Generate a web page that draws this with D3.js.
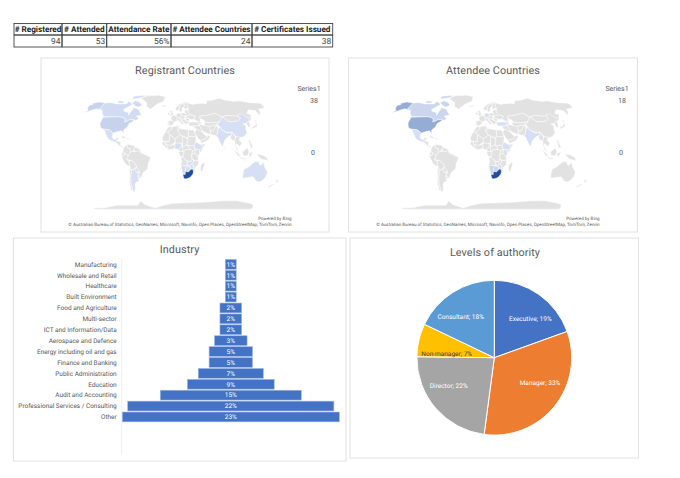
<!DOCTYPE html>
<html><head><meta charset="utf-8">
<style>html,body{margin:0;padding:0;background:#fff}svg{display:block}text{font-family:Roboto,"Open Sans",sans-serif;text-rendering:geometricPrecision}</style>
<script src="https://cdn.jsdelivr.net/npm/d3@7"></script></head><body>
<svg id="c" width="680" height="478"></svg>
<script>
// ---------- data ----------
const tableHeaders = ["# Registered","# Attended","Attendance Rate","# Attendee Countries","# Certificates Issued"];
const tableValues = ["94","53","56%","24","38"];

const industryCategories = ["Manufacturing","Wholesale and Retail","Healthcare","Built Environment","Food and Agriculture","Multi-sector","ICT and Information/Data","Aerospace and Defence","Energy including oil and gas","Finance and Banking","Public Administration","Education","Audit and Accounting","Professional Services / Consulting","Other"];
const industryCounts = [1,1,1,1,2,2,2,3,4,4,6,8,13,19,20];
const industryLabels = ["1%","1%","1%","1%","2%","2%","2%","3%","5%","5%","7%","9%","15%","22%","23%"];

const authorityLevels = ["Executive","Manager","Director","Non-manager","Consultant"];
const authorityShares = [19.5,32.6,23.1,6.9,17.9];
const authorityLabels = ["19%","33%","22%","7%","18%"];

const registrantCountries = ["South Africa","USA","Canada","Mexico","Argentina","China","India","Australia","Nigeria","Ethiopia","Botswana","Zimbabwe","Zambia","Namibia"];
const registrantCounts = [38,4,2,1,1,1,1,1,1,1,1,1,1,1];
const attendeeCountries = ["South Africa","USA","Canada","Mexico","India","Ethiopia","Botswana","Zimbabwe","Namibia","Germany","UK","Turkey"];
const attendeeCounts = [18,7,2,1,1,1,2,1,2,1,1,1];

// Rough country outlines, [longitude, latitude]
const worldShapes = [
["Canada",[[[-141,69.6],[-128,70],[-115,68],[-95,68],[-94,72],[-85,69],[-82,67],[-94,60],[-92,57],[-82,55],[-80,51],[-79,55],[-77,60],[-78,62],[-70,61],[-65,59],[-60,54],[-56,52],[-66,50],[-60,46],[-65,44],[-67,45],[-71,45],[-75,45],[-79,43],[-83,42],[-83,46],[-89,48],[-95,49],[-123,49],[-130,54],[-135,59],[-141,60]],
 [[-80,73],[-70,71],[-62,66],[-68,63],[-76,65],[-85,70]],[[-90,76],[-75,78],[-62,82],[-75,83],[-92,81]],[[-117,70],[-105,69],[-102,72],[-115,73]]]],
["USA",[[[-124,48.5],[-95,49],[-89,48],[-83,46],[-83,42],[-79,43],[-75,45],[-71,45],[-67,45],[-70,42],[-74,40],[-76,35],[-81,31],[-80,25.5],[-82,28],[-84,30],[-90,29],[-97,27],[-97,26],[-101,29.5],[-106,31.5],[-114,32],[-117,32.5],[-121,35],[-124,40]],
 [[-168,65.5],[-162,67],[-166,68.5],[-156,71],[-141,69.6],[-141,60],[-135,59],[-130,55],[-134,58],[-146,60.5],[-152,59],[-158,56.5],[-165,54.5],[-160,58],[-165,61]]]],
["Mexico",[[[-117,32.5],[-114,32],[-106,31.5],[-101,29.5],[-97,26],[-97.5,22],[-95,18.5],[-91,18.5],[-90,21],[-87,21],[-88,18],[-92,14.5],[-96,16],[-102,18],[-106,22],[-109,26],[-113,31]]]],
["Central America",[[[-92,14.5],[-88,18],[-88,16],[-83,15],[-83,10],[-78,9],[-80,7.5],[-85,10],[-88,13]]]],
["Caribbean",[[[-85,22],[-80,23],[-74,20],[-78,20]],[[-74,20],[-68,19],[-72,18]]]],
["Greenland",[[[-73,78],[-60,82],[-35,83.5],[-18,80],[-20,72],[-32,68],[-43,60],[-52,64],[-55,70],[-68,76]]]],
["Colombia",[[[-77,8],[-72,12],[-72,7],[-67,6],[-67,1],[-70,-4],[-75,0],[-79,2]]]],
["Venezuela",[[[-72,12],[-62,10.5],[-60,8],[-61,5],[-64,2],[-67,1],[-67,6],[-72,7]]]],
["Guianas",[[[-60,8],[-52,5],[-51,3],[-56,2],[-60,2],[-61,5]]]],
["Ecuador",[[[-79,2],[-75,0],[-78,-4],[-81,-3]]]],
["Peru",[[[-81,-4],[-78,-4],[-75,0],[-70,-4],[-73,-9],[-69,-11],[-69,-17],[-71,-18],[-76,-14]]]],
["Bolivia",[[[-69,-11],[-65,-10],[-60,-14],[-58,-18],[-62,-22],[-67,-23],[-69,-18]]]],
["Brazil",[[[-70,-4],[-67,1],[-64,2],[-60,2],[-56,2],[-51,3],[-50,0],[-44,-2],[-35,-6],[-39,-14],[-41,-22],[-48,-26],[-53,-34],[-57,-30],[-54,-25],[-58,-22],[-58,-18],[-60,-14],[-65,-10],[-73,-9]]]],
["Paraguay",[[[-58,-20],[-54,-24],[-58,-27],[-62,-22]]]],
["Uruguay",[[[-58,-30],[-53,-34],[-58,-34.5]]]],
["Argentina",[[[-67,-23],[-62,-22],[-58,-27],[-54,-26],[-58,-31],[-58,-34.5],[-57,-38],[-62,-39],[-65,-42],[-66,-47],[-69,-52],[-68,-55],[-72,-52],[-72,-42],[-70,-33]]]],
["Chile",[[[-69,-18],[-67,-23],[-70,-33],[-72,-42],[-72,-52],[-68,-55],[-75,-50],[-74,-40],[-71,-30]]]],
["Morocco",[[[-13,28],[-9,33],[-6,36],[-2,35],[-2,32],[-9,28]]]],
["Algeria",[[[-2,35],[9,37],[8,30],[12,24],[3,19],[-5,25],[-9,28],[-2,32]]]],
["Tunisia",[[[9,37],[11,33],[8,30]]]],
["Libya",[[[11,33],[20,32],[25,31],[25,20],[15,23],[12,24],[8,30]]]],
["Egypt",[[[25,31],[34,31],[37,22],[25,22]]]],
["Mauritania",[[[-17,21],[-13,28],[-9,28],[-5,25],[-6,15],[-16,16]]]],
["Mali",[[[-5,25],[3,19],[4,15],[-4,10],[-12,12],[-12,15],[-6,15]]]],
["Niger",[[[3,19],[12,24],[15,23],[15,13],[4,12],[4,15]]]],
["Chad",[[[15,23],[24,19],[22,11],[15,8],[15,13]]]],
["Sudan",[[[24,22],[37,22],[36,15],[33,10],[24,10],[22,11],[24,19]]]],
["Guinea coast",[[[-17,15],[-12,15],[-12,12],[-8,8],[-8,5],[-13,9],[-17,12]]]],
["Ghana coast",[[[-12,12],[-4,10],[3,12],[3,6],[-2,5],[-8,4.5],[-8,8]]]],
["Nigeria",[[[3,6],[3,12],[4,13.5],[14,13],[12,7],[9,4.5],[5,5]]]],
["Cameroon",[[[9,4.5],[12,7],[14,13],[15,8],[16,2],[10,2]]]],
["CAR",[[[15,8],[22,11],[27,5],[18,4],[16,2]]]],
["Gabon",[[[10,2],[16,2],[18,4],[16,-4],[12,-5],[9,0]]]],
["DRC",[[[18,4],[27,5],[31,3],[29,-3],[30,-8],[28,-12],[22,-11],[16,-6],[12,-6],[16,-4]]]],
["South Sudan",[[[24,10],[33,10],[35,5],[31,3],[27,5],[22,11]]]],
["Ethiopia",[[[33,10],[36,15],[43,12],[48,8],[42,4],[35,5]]]],
["Somalia",[[[43,12],[51,12],[42,-1],[41,4],[48,8]]]],
["Kenya",[[[35,5],[42,4],[41,-2],[39,-4],[34,-1]]]],
["Uganda",[[[31,3],[35,5],[34,-1],[29.5,-1]]]],
["Tanzania",[[[29.5,-1],[34,-1],[39,-4],[40,-10],[34,-10],[30,-8]]]],
["Angola",[[[12,-6],[16,-6],[22,-11],[24,-17],[12,-17],[14,-11]]]],
["Zambia",[[[22,-11],[28,-12],[30,-8],[33,-11],[30,-15],[26,-18],[24,-17]]]],
["Mozambique",[[[34,-10],[40,-10],[40,-16],[35,-20],[35,-24],[33,-26],[32,-22],[33,-17],[30,-15],[33,-11]]]],
["Zimbabwe",[[[26,-18],[30,-15],[33,-17],[32,-22],[29,-22]]]],
["Namibia",[[[12,-17],[24,-17],[25,-18],[20,-22],[20,-29],[16,-29],[14,-22]]]],
["Botswana",[[[21,-18],[26,-18],[29,-22],[25,-25.5],[20,-25],[20,-22]]]],
["South Africa",[[[16,-29],[20,-29],[20,-25],[25,-25.5],[29,-22],[32,-22],[33,-26],[32,-29],[28,-33],[25,-34],[20,-35],[18,-34]]]],
["Madagascar",[[[49,-12],[50,-16],[47,-25],[44,-24],[44,-17]]]],
["Iceland",[[[-24,65],[-14,66],[-15,64],[-22,63.5]]]],
["UK",[[[-5,50],[1,51],[0,54],[-3,58.5],[-6,57],[-3,54],[-5,52]]]],
["Ireland",[[[-10,52],[-6,52],[-6,55],[-9,55]]]],
["Portugal",[[[-9,37],[-7,37],[-7,42],[-9,42]]]],
["Spain",[[[-7,37],[-2,37],[0,39],[3,42],[-2,43.5],[-9,43.5],[-9,42],[-7,42]]]],
["France",[[[-2,43.5],[3,42],[7,43.5],[8,49],[2,51],[-4,48.5]]]],
["Germany",[[[6,51],[7,54],[14,54],[15,51],[13,48],[8,48]]]],
["Benelux",[[[2,51],[6,51],[7,53.5],[4,52]]]],
["Italy",[[[7,44],[7,46],[13,47],[13,44],[18,40],[16,38],[12,42],[9,44]]]],
["Central Europe",[[[8,48],[13,48],[15,51],[19,50],[22,48],[19,46],[13,46],[8,46]]]],
["Poland",[[[14,54],[19,54.5],[23,54],[24,50],[19,50],[15,51]]]],
["Balkans",[[[13,46],[19,46],[22,44],[28,42],[26,40],[23,40],[23,37],[20,40],[15,44]]]],
["Romania",[[[22,48],[29,46],[28,43],[22,44]]]],
["Ukraine",[[[24,50],[32,52],[40,50],[37,46],[33,45],[30,46],[22,48]]]],
["Belarus",[[[23,54],[21,56],[24,59],[28,59],[30,60],[28,56],[32,52],[24,50]]]],
["Norway",[[[5,59],[5,62],[14,68],[25,71],[31,70],[28,69],[20,69],[13,64],[12,59],[8,58]]]],
["Sweden",[[[12,56],[12,59],[13,64],[20,69],[24,66],[17,61],[18,59],[16,56]]]],
["Finland",[[[24,66],[20,69],[28,69],[30,62],[23,60],[21,62]]]],
["Russia",[[[30,60],[28,70],[33,69],[41,67],[44,68],[60,69],[68,68],[72,73],[85,74],[104,77.5],[113,74],[130,72],[140,73],[160,70],[180,69],[180,65],[178,62],[163,60],[162,56],[156,51],[155,58],[143,59],[135,54],[141,52],[135,44],[131,43],[131,48],[120,53],[116,50],[108,50],[98,51],[87,49],[76,54],[60,51],[48,50],[47,42],[40,43.5],[37,46],[40,50],[32,52],[28,56]]]],
["Caucasus",[[[40,43.5],[47,42],[48,38],[44,39],[42,41.5]]]],
["Kazakhstan",[[[48,50],[60,51],[76,54],[87,49],[80,42],[70,41],[56,41],[53,45],[48,46]]]],
["Mongolia",[[[87,49],[98,51],[108,50],[116,50],[119,47],[111,43],[96,42]]]],
["China",[[[74,39],[80,42],[87,49],[96,42],[111,43],[119,47],[116,50],[120,53],[126,53],[131,48],[135,48],[131,43],[124,40],[118,39],[122,37],[120,32],[120,27],[114,22],[108,21],[102,22],[98,25],[97,28],[88,28],[80,31],[78,35]]]],
["Korea",[[[124,40],[131,43],[129,35],[126,34.5]]]],
["Japan",[[[130,32],[135,34],[140,35],[142,40],[141,41],[138,37],[132,35]],[[140,42],[145,43],[142,45]]]],
["India",[[[68,23.5],[71,25],[74,32],[78,35],[80,31],[88,27],[96,28],[94,24],[91,23],[88,22],[82,17],[80,13],[77.5,8],[73,17],[72,21]]]],
["Pakistan",[[[61,25],[68,23.5],[71,25],[74,32],[75,37],[71,36],[66,30],[61,29.5]]]],
["Afghanistan",[[[61,30],[66,30],[71,36],[74,38],[65,37.5],[61,36]]]],
["Iran",[[[44,39],[48,38],[54,37],[61,36],[61,25],[57,26],[51,28],[48,30],[45,35]]]],
["Uzbekistan",[[[53,37],[61,36],[65,37.5],[74,38],[74,39],[80,42],[70,41],[56,41],[53,41]]]],
["Turkey",[[[26,40],[29,41.5],[36,42],[42,41.5],[44,39],[44,37],[36,36.5],[28,36.5]]]],
["Iraq",[[[36,36.5],[44,37],[45,35],[48,30],[46,29],[39,32],[36,33]]]],
["Saudi Arabia",[[[35,28],[39,32],[46,29],[48,28],[51,25],[55,22],[52,19],[43,17],[39,21]]]],
["Oman",[[[43,17],[52,19],[55,22],[56,25],[60,22],[55,17],[45,13]]]],
["Myanmar",[[[92,21],[94,24],[96,28],[98,25],[100,21],[98,15],[97,17],[94,17]]]],
["Indochina",[[[98,15],[100,21],[102,22],[108,21],[105,18],[109,13],[105,9],[100,13],[99,9],[101,6],[104,1.5],[100,4],[98,9]]]],
["Indonesia",[[[95,5.5],[104,-2],[106,-6],[101,-3]],[[105,-6.5],[114,-7],[114,-8.5],[106,-8]],[[109,1.5],[117,7],[119,1],[116,-4],[110,-3]],[[119,0],[125,1],[122,-5],[120,-5]]]],
["Papua New Guinea",[[[131,-1],[141,-3],[147,-6],[150,-10],[143,-9],[138,-8]]]],
["Philippines",[[[120,18],[122,18],[124,12],[126,7],[122,7],[121,13]]]],
["Sri Lanka",[[[80,9.5],[82,7],[80.5,6]]]],
["Australia",[[[114,-22],[122,-18],[126,-14],[130,-12],[136,-12],[136,-15],[140,-17],[142,-11],[146,-19],[153,-26],[153,-32],[150,-37],[146,-39],[140,-38],[135,-34],[131,-32],[124,-33],[115,-34],[114,-27]],[[145,-41],[148,-41],[147,-43.5]]]],
["New Zealand",[[[173,-35],[178,-38],[175,-41],[174,-38]],[[172,-41],[174,-42],[168,-47],[166,-45]]]],
["Antarctica",[[[-180,-78],[-150,-77],[-120,-73],[-100,-73],[-75,-73],[-65,-66],[-60,-72],[-40,-78],[-20,-73],[0,-70],[40,-69],[70,-68],[100,-66],[130,-66],[160,-70],[170,-72],[180,-78],[180,-80],[120,-80],[60,-80],[0,-80],[-60,-80],[-120,-80],[-180,-80]]]]
];

// ---------- layout ----------
const svg = d3.select("#c");
const grey = "#595959";
const panels = [[41,58,288,174],[348.5,58,289,174],[13.5,238,332.5,223],[350,238,288.5,220]];
svg.selectAll("rect.panel").data(panels).join("rect").attr("class","panel")
  .attr("x",d=>d[0]).attr("y",d=>d[1]).attr("width",d=>d[2]).attr("height",d=>d[3])
  .attr("fill","#fff").attr("stroke","#e2e2e2").attr("stroke-width",1);

// table
const colEdges = [14,62,106.7,171,252,332.7];
const rowEdges = [23.5,35,47];
const tbl = svg.append("g");
tableHeaders.forEach((h,i)=>{
  tbl.append("rect").attr("x",colEdges[i]).attr("y",rowEdges[0]).attr("width",colEdges[i+1]-colEdges[i]).attr("height",rowEdges[1]-rowEdges[0]).attr("fill","none").attr("stroke","#444").attr("stroke-width",.9);
  tbl.append("rect").attr("x",colEdges[i]).attr("y",rowEdges[1]).attr("width",colEdges[i+1]-colEdges[i]).attr("height",rowEdges[2]-rowEdges[1]).attr("fill","none").attr("stroke","#444").attr("stroke-width",.9);
  tbl.append("text").attr("x",(colEdges[i]+colEdges[i+1])/2).attr("y",32.3).attr("text-anchor","middle").attr("font-size",8.2).attr("font-weight",700).attr("fill","#222").text(h);
  tbl.append("text").attr("x",colEdges[i+1]-1.5).attr("y",44.2).attr("text-anchor","end").attr("font-size",8.4).attr("fill","#444").text(tableValues[i]);
});

function title(t,x,y){svg.append("text").attr("x",x).attr("y",y).attr("text-anchor","middle").attr("font-size",10.8).attr("letter-spacing",.1).attr("fill",grey).text(t);}

function drawMap(name,countries,counts,dx){
  const g = svg.append("g");
  const projection = d3.geoNaturalEarth1().scale(42).translate([173+dx,153]);
  const lookup = new Map(countries.map((c,i)=>[c,counts[i]]));
  const max = d3.max(counts);
  const colour = d3.scaleLinear().domain([1,max]).range(["#d6dff3","#1f4e9a"]);
  const line = d3.line().curve(d3.curveLinearClosed);
  g.selectAll("path").data(worldShapes).join("path")
    .attr("d",d=>d[1].map(r=>line(r.map(projection))).join(""))
    .attr("fill",d=>lookup.has(d[0])?colour(lookup.get(d[0])):"#e2e2e2")
    .attr("stroke","#fff").attr("stroke-width",.45).attr("stroke-linejoin","round");
  title(name,185+dx,74);
  const small=(t,x,y,a,fs)=>svg.append("text").attr("x",x+dx).attr("y",y).attr("text-anchor",a).attr("font-size",fs).attr("fill",grey).text(t);
  small("Series1",309,90.5,"middle",7);
  small(String(max),314,102.5,"middle",7);
  small("0",313,154.5,"middle",7);
  small("Powered by Bing",291.5,219.5,"end",4.5);
  small("\u00A9 Australian Bureau of Statistics, GeoNames, Microsoft, Navinfo, Open Places, OpenStreetMap, TomTom, Zenrin",291.5,225.5,"end",4.5);
}
drawMap("Registrant Countries",registrantCountries,registrantCounts,0);
drawMap("Attendee Countries",attendeeCountries,attendeeCounts,308);

// funnel
title("Industry",179.5,253);
const y = d3.scaleBand().domain(industryCategories).range([258.9,422.4]).paddingInner(.1).paddingOuter(.05);
const w = d3.scaleLinear().domain([0,20]).range([0,217]);
const funnelCx = 230.8;
svg.append("line").attr("x1",121.7).attr("x2",121.7).attr("y1",259).attr("y2",455).attr("stroke","#e8e8e8").attr("stroke-width",.8);
svg.append("g").selectAll("rect").data(industryCategories).join("rect")
  .attr("x",(d,i)=>funnelCx-w(industryCounts[i])/2).attr("width",(d,i)=>w(industryCounts[i]))
  .attr("y",d=>y(d)).attr("height",y.bandwidth())
  .attr("fill","#4472c4").attr("stroke","#9db7e4").attr("stroke-width",.6);
svg.append("g").selectAll("text").data(industryCategories).join("text")
  .attr("x",116.7).attr("y",d=>y(d)+y.bandwidth()/2+2.3).attr("text-anchor","end").attr("font-size",6.45).attr("fill",grey).text(d=>d);
svg.append("g").selectAll("text").data(industryLabels).join("text")
  .attr("x",funnelCx).attr("y",(d,i)=>y(industryCategories[i])+y.bandwidth()/2+2.3).attr("text-anchor","middle").attr("font-size",6.6).attr("fill","#fff").text(d=>d);

// pie
title("Levels of authority",495,255.5);
const pieColours = ["#4472c4","#ed7d31","#a5a5a5","#ffc000","#5b9bd5"];
const labelNudge = [[5.8,3.7],[4.8,-7.7],[-5.8,-6.4],[3.6,8],[-5.6,3.1]];
const pieG = svg.append("g").attr("transform","translate(494.3,357.7)");
const arcs = d3.pie().sort(null)(authorityShares);
const arc = d3.arc().innerRadius(0).outerRadius(77.4);
const labelArc = d3.arc().innerRadius(52.6).outerRadius(52.6);
pieG.selectAll("path").data(arcs).join("path").attr("d",arc).attr("fill",(d,i)=>pieColours[i]).attr("stroke","#fff").attr("stroke-width",1);
pieG.selectAll("text").data(arcs).join("text")
  .attr("x",(d,i)=>labelArc.centroid(d)[0]+labelNudge[i][0])
  .attr("y",(d,i)=>labelArc.centroid(d)[1]+labelNudge[i][1]+2.3)
  .attr("text-anchor","middle").attr("font-size",6.5)
  .attr("fill",(d,i)=>i===3?"#404040":"#fff")
  .text((d,i)=>authorityLevels[i]+"; "+authorityLabels[i]);
</script></body></html>
